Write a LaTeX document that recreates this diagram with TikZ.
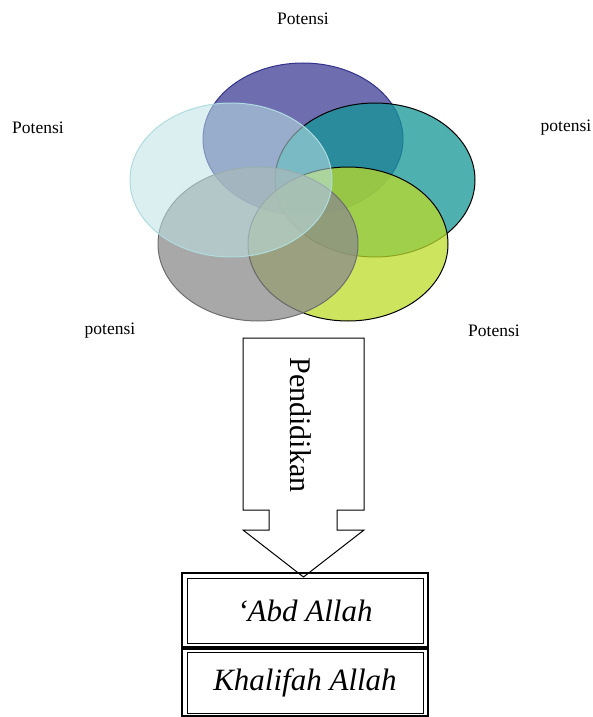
\documentclass[tikz,border=0pt]{standalone}
\usepackage{fontspec}
\setmainfont{Liberation Serif}
\begin{document}
\begin{tikzpicture}[x=1pt,y=-1pt,
  lbl/.style={font=\fontsize{17.5}{20}\selectfont, inner sep=0pt},
  ell/.style={line width=1pt, fill opacity=0.75},
  dbox/.style={draw, line width=1pt, inner sep=0pt,
    minimum width=236pt, font=\fontsize{31}{34}\selectfont\itshape},
  outerline/.style={line width=2pt},
  callout/.style={draw, line width=1pt, fill=white}]
\definecolor{cblue}{RGB}{60,60,150}
\definecolor{cteal}{RGB}{20,150,150}
\definecolor{cgreen}{RGB}{188,219,42}
\definecolor{cgray}{RGB}{139,139,139}
\definecolor{ccyan}{RGB}{189,225,229}
\useasboundingbox (0,0) rectangle (592,717);
% ellipses
\draw[ell, draw={rgb,255:red,50;green,50;blue,140}, fill=cblue] (303,139) ellipse [x radius=100, y radius=76];
\draw[ell, draw=black, fill=cteal] (375,180) ellipse [x radius=100, y radius=77];
\draw[ell, draw=black, fill=cgreen] (348,244) ellipse [x radius=100, y radius=77];
\draw[ell, draw={rgb,255:red,110;green,110;blue,110}, fill=cgray] (258,244) ellipse [x radius=100, y radius=77];
\draw[ell, fill opacity=0.55, draw={rgb,255:red,175;green,220;blue,222}, fill=ccyan] (231,180) ellipse [x radius=101, y radius=77];
% labels
\node[lbl] (p1) at (303,19) {Potensi};
\node[lbl] (p2) at (38,128) {Potensi};
\node[lbl] (p3) at (566,128) {potensi};
\node[lbl] (p4) at (110,331) {potensi};
\node[lbl] (p5) at (494,331) {Potensi};
% arrow callout
\coordinate (tip) at (303.5,577);
\draw[callout] (243,338) -- (364,338) -- (364,510) -- (337,510) -- (337,530) -- (364,530)
  -- (tip) -- (243,530) -- (269,530) -- (269,510) -- (243,510) -- cycle;
\node[rotate=-90, font=\fontsize{30}{32}\selectfont, inner sep=0pt] (pend) at (301,425) {Pendidikan};
% boxes
\node[dbox, minimum height=65pt] (abd) at (305,610.5) {`Abd Allah};
\draw[outerline] ([xshift=-4.5pt,yshift=4.5pt]abd.north west) rectangle ([xshift=4.5pt,yshift=-3pt]abd.south east);
\node[dbox, minimum height=61pt] (khal) at (305,682.5) {Khalifah Allah};
\draw[outerline] ([xshift=-4.5pt,yshift=3pt]khal.north west) rectangle ([xshift=4.5pt,yshift=-2.5pt]khal.south east);
\end{tikzpicture}
\end{document}
